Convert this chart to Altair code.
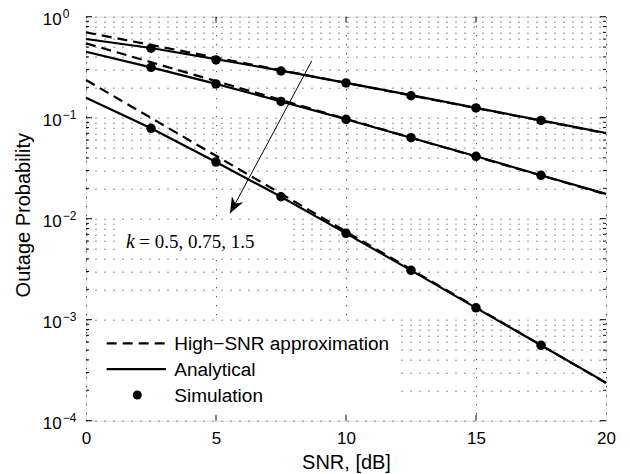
import altair as alt
import pandas as pd

# ---------------- data ----------------
snr = [0, 2.5, 5, 7.5, 10, 12.5, 15, 17.5, 20]
analytical_k050 = [0.601, 0.490, 0.380, 0.292, 0.221, 0.167, 0.125, 0.094, 0.0705]
analytical_k075 = [0.450, 0.315, 0.216, 0.145, 0.0964, 0.0634, 0.0415, 0.0269, 0.0176]
analytical_k150 = [0.158, 0.0785, 0.0364, 0.0165, 0.00716, 0.00308, 0.00131, 0.000558, 0.000238]

sim_snr = [2.5, 5, 7.5, 10, 12.5, 15, 17.5]
sim_k050 = [0.487, 0.373, 0.290, 0.221, 0.165, 0.125, 0.094]
sim_k075 = [0.315, 0.216, 0.145, 0.0964, 0.0634, 0.0415, 0.0269]
sim_k150 = [0.0785, 0.0364, 0.0165, 0.00716, 0.00308, 0.00131, 0.000558]

approx_snr = [0, 20]
approx_k050 = [0.70, 0.0700]
approx_k075 = [0.545, 0.0174]
approx_k150 = [0.236, 0.000236]

x_ticks = [0, 5, 10, 15, 20]
y_decades = [0, -1, -2, -3, -4]
y_exp_labels = ["0", "\u22121", "\u22122", "\u22123", "\u22124"]

# annotation (arrow from upper curve to lower curve, label)
arrow_snr = [8.68, 5.54]
arrow_p = [0.364, 0.0113]
label_snr = [1.71, 2.05]
label_p = [0.00509, 0.00509]
label_txt = ["k", "= 0.5, 0.75, 1.5"]

# white backgrounds of text box and legend
box_snr = [1.12, 0.06]
box_snr2 = [7.88, 11.88]
box_p = [0.00949, 0.000949]
box_p2 = [0.00437, 0.000104]

FONT = "Liberation Sans"

# ---------------- tables ----------------
def long(xs, series):
    rows = []
    for name, ys in series.items():
        for xv, yv in zip(xs, ys):
            rows.append({"snr": xv, "p": yv, "k": name})
    return pd.DataFrame(rows)

ana_df = long(snr, {"0.5": analytical_k050, "0.75": analytical_k075, "1.5": analytical_k150})
sim_df = long(sim_snr, {"0.5": sim_k050, "0.75": sim_k075, "1.5": sim_k150})
apx_df = long(approx_snr, {"0.5": approx_k050, "0.75": approx_k075, "1.5": approx_k150})

grid_vals = [m * 10.0 ** e for e in range(-4, 0) for m in range(1, 10)] + [1.0]
major_df = pd.DataFrame({"p": [10.0 ** e for e in y_decades]})
minor_df = pd.DataFrame({"p": [m * 10.0 ** e for e in range(-4, 0) for m in range(2, 10)]})
xt_df = pd.DataFrame({"snr": x_ticks[1:-1]})
ylab_df = pd.DataFrame({"p": [10.0 ** e for e in y_decades], "exp": y_exp_labels})
arrow_df = pd.DataFrame({"snr": arrow_snr, "p": arrow_p})
tip_df = pd.DataFrame({"snr": [arrow_snr[-1]], "p": [arrow_p[-1]]})
box_df = pd.DataFrame({"snr": box_snr, "snr2": box_snr2, "p": box_p, "p2": box_p2})
one = pd.DataFrame({"a": [0]})

# ---------------- scales / axes ----------------
X = alt.X("snr:Q",
          scale=alt.Scale(domain=[0, 20], nice=False, zero=False),
          axis=alt.Axis(values=x_ticks, grid=True, gridDash=[1, 8], gridColor="#222",
                        gridWidth=1, ticks=False, domain=False, labelFontSize=17,
                        labelFont=FONT, labelColor="black", labelPadding=10,
                        labelFlush=False, title="SNR, [dB]", titleFont=FONT,
                        titleFontSize=20, titleFontWeight="normal", titleColor="black",
                        titleY=42, titleBaseline="middle"))
Y = alt.Y("p:Q",
          scale=alt.Scale(type="log", domain=[1e-4, 1], nice=False),
          axis=alt.Axis(values=grid_vals, grid=True, gridDash=[1, 8], gridColor="#222",
                        gridWidth=1, ticks=False, domain=False, labels=False,
                        title="Outage Probability", titleFont=FONT, titleFontSize=20,
                        titleFontWeight="normal", titleColor="black", titleX=-63,
                        titleY=198, titleAngle=270, titleBaseline="middle",
                        titleAlign="center"))

boxes = alt.Chart(box_df).mark_rect(fill="white", stroke=None).encode(
    x=X, x2="snr2:Q", y=Y, y2="p2:Q")

approx = alt.Chart(apx_df).mark_line(color="black", strokeWidth=2.2, strokeDash=[10, 6]).encode(
    x=X, y=Y, detail="k:N")
analytical = alt.Chart(ana_df).mark_line(color="black", strokeWidth=2.2).encode(
    x=X, y=Y, detail="k:N")
sim = alt.Chart(sim_df).mark_point(shape="circle", filled=True, color="black",
                                   size=90, opacity=1).encode(x=X, y=Y)

arrow = alt.Chart(arrow_df).mark_line(color="black", strokeWidth=1).encode(x=X, y=Y)
tip = alt.Chart(tip_df).mark_point(shape="M0,0 L0.4,1 L0,0.7 L-0.4,1 Z", filled=True,
                                   color="black", size=1024, angle=208, opacity=1,
                                   strokeWidth=0).encode(x=X, y=Y)

k_label = alt.Chart(pd.DataFrame({"snr": label_snr[:1], "p": label_p[:1], "t": label_txt[:1]})).mark_text(
    font="Liberation Serif", fontSize=20, fontStyle="italic", align="center",
    baseline="alphabetic", color="black").encode(x=X, y=Y, text="t:N")
v_label = alt.Chart(pd.DataFrame({"snr": label_snr[1:], "p": label_p[1:], "t": label_txt[1:]})).mark_text(
    font="Liberation Serif", fontSize=19, align="left",
    baseline="alphabetic", color="black").encode(x=X, y=Y, text="t:N")

# inward ticks
tk = dict(color="black", strokeWidth=1)
yl_major = alt.Chart(major_df).mark_rule(**tk).encode(y=Y, x=alt.value(0), x2=alt.value(6))
yr_major = alt.Chart(major_df).mark_rule(**tk).encode(y=Y, x=alt.value(520), x2=alt.value(514))
yl_minor = alt.Chart(minor_df).mark_rule(**tk).encode(y=Y, x=alt.value(0), x2=alt.value(3))
yr_minor = alt.Chart(minor_df).mark_rule(**tk).encode(y=Y, x=alt.value(520), x2=alt.value(517))
xb = alt.Chart(xt_df).mark_rule(**tk).encode(x=X, y=alt.value(404), y2=alt.value(398))
xt = alt.Chart(xt_df).mark_rule(**tk).encode(x=X, y=alt.value(0), y2=alt.value(6))

# y tick labels 10^e
ten = alt.Chart(ylab_df).mark_text(font=FONT, fontSize=17, align="right", baseline="alphabetic",
                                   dy=8, color="black").encode(
    y=Y, x=alt.value(-24.3), text=alt.value("10"))
expo = alt.Chart(ylab_df).mark_text(font=FONT, fontSize=12, align="left", baseline="alphabetic",
                                    dy=1.8, color="black").encode(
    y=Y, x=alt.value(-23.3), text="exp:N")

# legend (drawn manually)
leg_dash = alt.Chart(one).mark_rule(color="black", strokeWidth=2.2, strokeDash=[10, 6]).encode(
    x=alt.value(20.7), x2=alt.value(80), y=alt.value(326.6))
leg_solid = alt.Chart(one).mark_rule(color="black", strokeWidth=2.2).encode(
    x=alt.value(20.7), x2=alt.value(80), y=alt.value(352.5))
leg_dot = alt.Chart(one).mark_point(shape="circle", filled=True, color="black", size=80,
                                    opacity=1).encode(x=alt.value(51.3), y=alt.value(378.3))
leg_txt = []
for txt, yy in [("High\u2212SNR approximation", 333.3), ("Analytical", 359.2), ("Simulation", 385.0)]:
    leg_txt.append(alt.Chart(one).mark_text(font=FONT, fontSize=19, align="left",
                                            baseline="alphabetic", color="black").encode(
        x=alt.value(88.3), y=alt.value(yy), text=alt.value(txt)))

chart = alt.layer(
    boxes, approx, analytical, sim, arrow, tip, k_label, v_label,
    yl_major, yr_major, yl_minor, yr_minor, xb, xt, ten, expo,
    leg_dash, leg_solid, leg_dot, *leg_txt
).properties(
    width=520, height=404,
    padding={"left": 78, "top": 8.7, "right": 16, "bottom": 52},
    autosize="none",
).configure_view(stroke="black", strokeWidth=1.5).configure(background="white")

chart.save("out.html", embed_options={"renderer": "svg", "actions": False})
